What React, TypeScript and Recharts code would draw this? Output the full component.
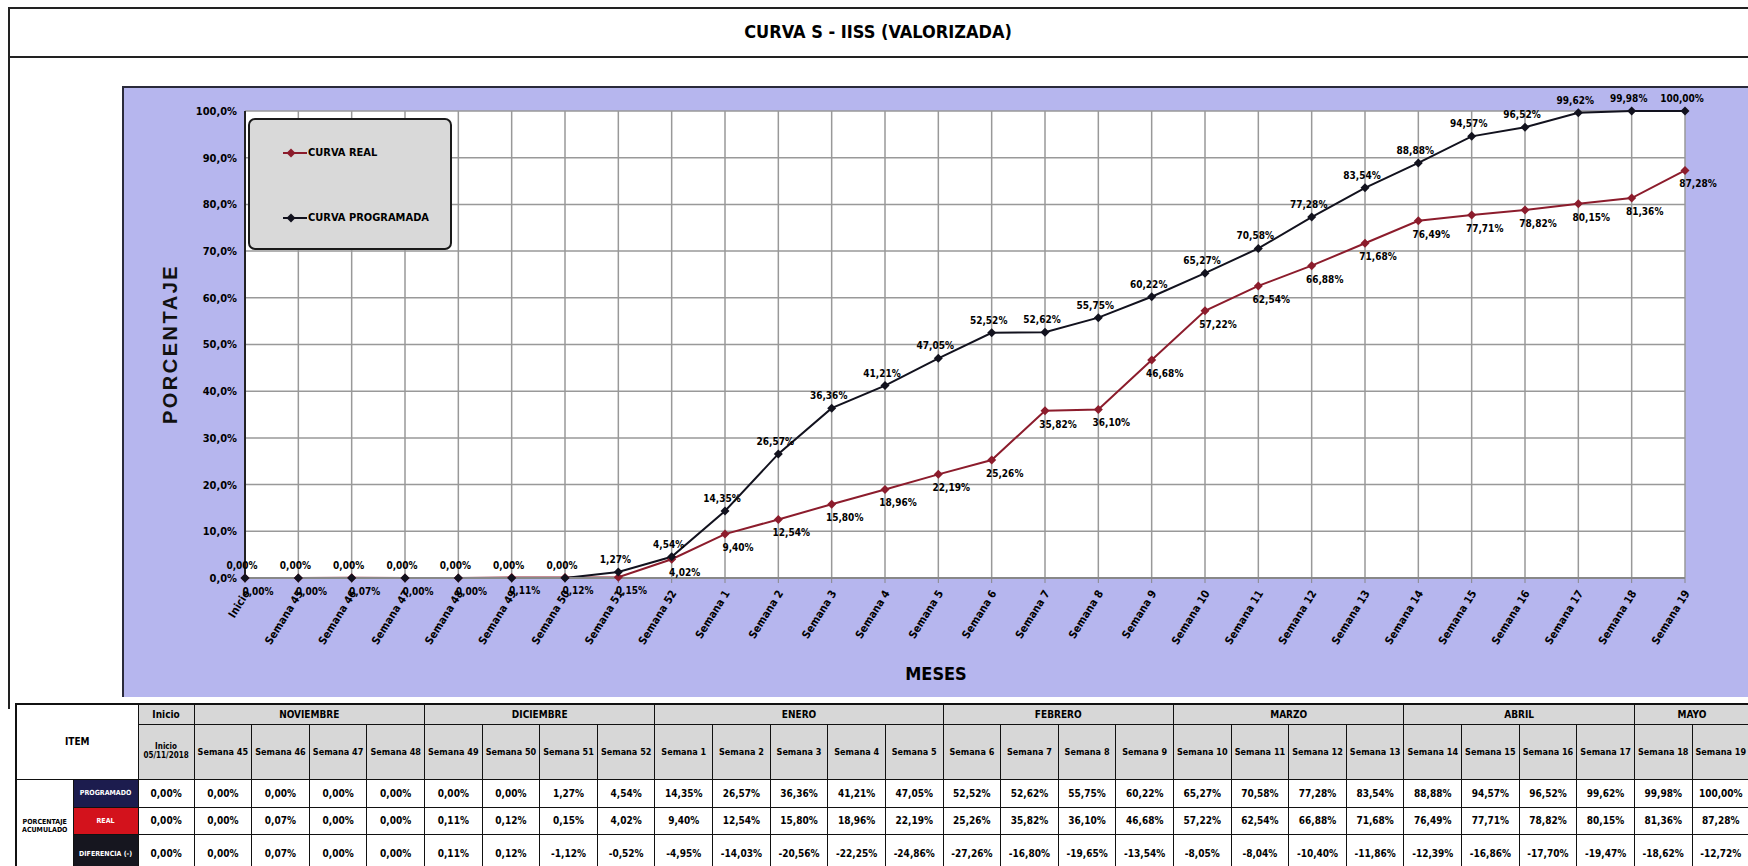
import React from "react";
import {
  LineChart,
  Line,
  XAxis,
  YAxis,
  CartesianGrid,
  Legend,
  LabelList,
  Label,
} from "recharts";

const NARROW =
  '"Liberation Sans Narrow", "Arial Narrow", "DejaVu Sans Condensed", sans-serif';
const SANS = '"Liberation Sans", Arial, sans-serif';

// categorias (semanas)
const semanas = [
  "Inicio",
  "Semana 45",
  "Semana 46",
  "Semana 47",
  "Semana 48",
  "Semana 49",
  "Semana 50",
  "Semana 51",
  "Semana 52",
  "Semana 1",
  "Semana 2",
  "Semana 3",
  "Semana 4",
  "Semana 5",
  "Semana 6",
  "Semana 7",
  "Semana 8",
  "Semana 9",
  "Semana 10",
  "Semana 11",
  "Semana 12",
  "Semana 13",
  "Semana 14",
  "Semana 15",
  "Semana 16",
  "Semana 17",
  "Semana 18",
  "Semana 19",
];

// % acumulado
const programado = [
  0, 0, 0, 0, 0, 0, 0, 1.27, 4.54, 14.35, 26.57, 36.36, 41.21, 47.05, 52.52,
  52.62, 55.75, 60.22, 65.27, 70.58, 77.28, 83.54, 88.88, 94.57, 96.52, 99.62,
  99.98, 100.0,
];
const real = [
  0, 0, 0.07, 0, 0, 0.11, 0.12, 0.15, 4.02, 9.4, 12.54, 15.8, 18.96, 22.19,
  25.26, 35.82, 36.1, 46.68, 57.22, 62.54, 66.88, 71.68, 76.49, 77.71, 78.82,
  80.15, 81.36, 87.28,
];
const diferencia = [
  0, 0, 0.07, 0, 0, 0.11, 0.12, -1.12, -0.52, -4.95, -14.03, -20.56, -22.25,
  -24.86, -27.26, -16.8, -19.65, -13.54, -8.05, -8.04, -10.4, -11.86, -12.39,
  -16.86, -17.7, -19.47, -18.62, -12.72,
];

const meses = ["NOVIEMBRE", "DICIEMBRE", "ENERO", "FEBRERO", "MARZO", "ABRIL", "MAYO"];
const semanasPorMes = [4, 4, 5, 4, 4, 4, 2];
const yTicks = [0, 10, 20, 30, 40, 50, 60, 70, 80, 90, 100];

const data = semanas.map((s, i) => ({
  semana: s,
  programado: programado[i],
  real: real[i],
}));

const PROG_COLOR = "#12121e";
const REAL_COLOR = "#8c1c2c";
const PURPLE = "#b6b6ee";

const fmt = (v: number) => v.toFixed(2).replace(".", ",") + "%";

const diamond = (color: string) => (props: any) => {
  const { cx, cy, index } = props;
  if (cx == null || cy == null) return <g key={index} />;
  return (
    <polygon
      key={index}
      points={`${cx},${cy - 4.5} ${cx + 4.5},${cy} ${cx},${cy + 4.5} ${cx - 4.5},${cy}`}
      fill={color}
    />
  );
};

const ProgLabel = (p: any) => (
  <text
    x={p.x - 3}
    y={p.y - 9}
    textAnchor="middle"
    fontSize={10}
    fontWeight={700}
    fontFamily={NARROW}
    fill="#000"
  >
    {fmt(p.value)}
  </text>
);

const RealLabel = (p: any) => (
  <text
    x={p.x + 13}
    y={p.y + 17}
    textAnchor="middle"
    fontSize={10}
    fontWeight={700}
    fontFamily={NARROW}
    fill="#000"
  >
    {fmt(p.value)}
  </text>
);

const SemanaTick = (props: any) => {
  const { x, y, payload } = props;
  return (
    <g transform={`translate(${x + 2},${y + 6})`}>
      <text
        transform="rotate(-58)"
        textAnchor="end"
        dy="0.35em"
        fontSize={11}
        fontWeight={700}
        fontFamily={NARROW}
        fill="#000"
      >
        {payload.value}
      </text>
    </g>
  );
};

const LegendBox = () => (
  <div
    style={{
      width: 204,
      height: 132,
      boxSizing: "border-box",
      background: "#d9d9d9",
      border: "2px solid #1a1a1a",
      borderRadius: 7,
      position: "relative",
      fontFamily: NARROW,
      fontWeight: 700,
      fontSize: 11,
    }}
  >
    {[
      { name: "CURVA REAL", color: REAL_COLOR, top: 26 },
      { name: "CURVA PROGRAMADA", color: PROG_COLOR, top: 91 },
    ].map((it) => (
      <div
        key={it.name}
        style={{ position: "absolute", left: 33, top: it.top, display: "flex", alignItems: "center" }}
      >
        <svg width={24} height={12}>
          <line x1={0} y1={6} x2={24} y2={6} stroke={it.color} strokeWidth={2} />
          <polygon points="8,1.5 12.5,6 8,10.5 3.5,6" fill={it.color} />
        </svg>
        <span style={{ color: "#000", marginLeft: 1 }}>{it.name}</span>
      </div>
    ))}
  </div>
);

const cellBorder = "1.5px solid #111";
const headBg = "#d7d7d7";

const Tabla = () => {
  const td: React.CSSProperties = {
    border: cellBorder,
    textAlign: "center",
    verticalAlign: "middle",
    fontFamily: NARROW,
    fontWeight: 700,
    fontSize: 10,
    padding: 0,
    color: "#000",
    overflow: "hidden",
    whiteSpace: "nowrap",
  };
  const rowName = (bg: string): React.CSSProperties => ({
    ...td,
    background: bg,
    color: "#fff",
    fontSize: 7,
  });
  return (
    <table
      style={{
        position: "absolute",
        left: 15,
        top: 703,
        borderCollapse: "collapse",
        tableLayout: "fixed",
        width: 1736,
        border: "2px solid #111",
      }}
    >
      <colgroup>
        <col style={{ width: 57 }} />
        <col style={{ width: 65 }} />
        <col style={{ width: 56 }} />
        {semanas.slice(1).map((s) => (
          <col key={s} style={{ width: 57.6 }} />
        ))}
      </colgroup>
      <tbody>
        <tr style={{ height: 20 }}>
          <td colSpan={2} rowSpan={2} style={{ ...td, background: "#fff" }}>
            ITEM
          </td>
          <td style={{ ...td, background: headBg }}>Inicio</td>
          {meses.map((m, i) => (
            <td key={m} colSpan={semanasPorMes[i]} style={{ ...td, background: headBg }}>
              {m}
            </td>
          ))}
        </tr>
        <tr style={{ height: 55 }}>
          <td style={{ ...td, background: headBg, fontSize: 8, whiteSpace: "normal", lineHeight: 1.1 }}>
            Inicio
            <br />
            05/11/2018
          </td>
          {semanas.slice(1).map((s) => (
            <td key={s} style={{ ...td, background: headBg, fontSize: 9 }}>
              {s}
            </td>
          ))}
        </tr>
        <tr style={{ height: 28 }}>
          <td
            rowSpan={3}
            style={{ ...td, fontSize: 7, whiteSpace: "normal", lineHeight: 1.2 }}
          >
            PORCENTAJE
            <br />
            ACUMULADO
          </td>
          <td style={rowName("#1c1c4e")}>PROGRAMADO</td>
          {programado.map((v, i) => (
            <td key={i} style={td}>
              {fmt(v)}
            </td>
          ))}
        </tr>
        <tr style={{ height: 27 }}>
          <td style={rowName("#d3121c")}>REAL</td>
          {real.map((v, i) => (
            <td key={i} style={td}>
              {fmt(v)}
            </td>
          ))}
        </tr>
        <tr style={{ height: 40 }}>
          <td style={rowName("#16161f")}>DIFERENCIA (-)</td>
          {diferencia.map((v, i) => (
            <td key={i} style={td}>
              {fmt(v)}
            </td>
          ))}
        </tr>
      </tbody>
    </table>
  );
};

export default function App() {
  return (
    <div
      style={{
        position: "absolute",
        left: 0,
        top: 0,
        width: 1748,
        height: 866,
        background: "#fff",
        overflow: "hidden",
      }}
    >
      {/* marco + titulo */}
      <div
        style={{
          position: "absolute",
          left: 8,
          top: 7,
          width: 1760,
          height: 700,
          borderLeft: "2px solid #222",
          borderTop: "2px solid #222",
        }}
      />
      <div
        style={{
          position: "absolute",
          left: 8,
          top: 7,
          width: 1760,
          height: 51,
          borderBottom: "2px solid #222",
          display: "flex",
          alignItems: "center",
          justifyContent: "center",
          paddingRight: 20,
          boxSizing: "border-box",
          fontFamily: NARROW,
          fontWeight: 700,
          fontSize: 18,
          color: "#000",
        }}
      >
        CURVA S - IISS (VALORIZADA)
      </div>

      <div
        style={{
          position: "absolute",
          left: 122,
          top: 86,
          width: 1626,
          height: 611,
          background: PURPLE,
          borderTop: "2px solid #2a2a3a",
          borderLeft: "2px solid #2a2a3a",
          boxSizing: "border-box",
        }}
      />
      <div style={{ position: "absolute", left: 122, top: 86 }}>
        <LineChart
          width={1626}
          height={611}
          data={data}
          margin={{ top: 25, right: 63, left: 63, bottom: 0 }}
        >
          <CartesianGrid stroke="#999" strokeWidth={1.5} fill="#fff" />
          <XAxis
            dataKey="semana"
            interval={0}
            height={119}
            tick={<SemanaTick />}
            axisLine={{ stroke: "#888", strokeWidth: 2 }}
            tickLine={{ stroke: "#888" }}
            tickSize={5}
          >
            <Label
              content={() => (
                <text
                  x={814}
                  y={594}
                  textAnchor="middle"
                  fontFamily={NARROW}
                  fontWeight={700}
                  fontSize={18}
                  fill="#000"
                >
                  MESES
                </text>
              )}
            />
          </XAxis>
          <YAxis
            type="number"
            domain={[0, 100]}
            ticks={yTicks}
            width={60}
            interval={0}
            tickFormatter={(v: number) => v.toFixed(1).replace(".", ",") + "%"}
            tick={{ fontSize: 11, fontWeight: 700, fill: "#000", fontFamily: NARROW }}
            axisLine={{ stroke: "#222", strokeWidth: 2 }}
            tickLine={false}
          >
            <Label
              content={() => (
                <text
                  x={55}
                  y={258}
                  transform="rotate(-90 55 258)"
                  textAnchor="middle"
                  fontFamily={SANS}
                  fontWeight={700}
                  fontSize={20}
                  letterSpacing={2.5}
                  fill="#111"
                >
                  PORCENTAJE
                </text>
              )}
            />
          </YAxis>
          <Legend
            layout="vertical"
            align="center"
            verticalAlign="middle"
            content={() => <LegendBox />}
            wrapperStyle={{ left: 126, top: 32, bottom: "auto", width: 204, height: 132 }}
          />
          <Line
            type="linear"
            dataKey="real"
            name="CURVA REAL"
            stroke={REAL_COLOR}
            strokeWidth={2}
            dot={diamond(REAL_COLOR)}
            isAnimationActive={false}
          >
            <LabelList dataKey="real" content={<RealLabel />} />
          </Line>
          <Line
            type="linear"
            dataKey="programado"
            name="CURVA PROGRAMADA"
            stroke={PROG_COLOR}
            strokeWidth={2}
            dot={diamond(PROG_COLOR)}
            isAnimationActive={false}
          >
            <LabelList dataKey="programado" content={<ProgLabel />} />
          </Line>
        </LineChart>
      </div>

      <Tabla />
    </div>
  );
}
